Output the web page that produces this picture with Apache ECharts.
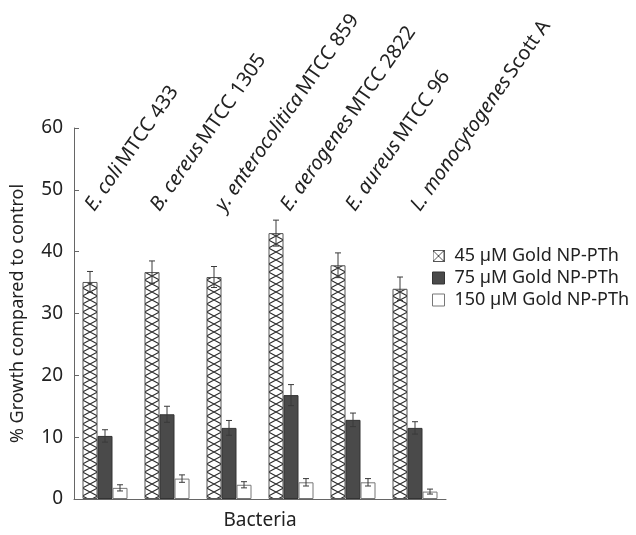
<!DOCTYPE html>
<html>
<head>
<meta charset="utf-8">
<script src="https://cdn.jsdelivr.net/npm/echarts@6/dist/echarts.min.js"></script>
<style>
  html, body { margin: 0; padding: 0; background: #fff; }
  #chart { width: 636px; height: 535px; }
</style>
</head>
<body>
<div id="chart"></div>
<script>
// Strains tested (species name in italics, strain code upright)
const speciesNames = ['E. coli', 'B. cereus', 'y. enterocolitica', 'E. aerogenes', 'E. aureus', 'L. monocytogenes'];
const strainNames = ['MTCC 433', 'MTCC 1305', 'MTCC 859', 'MTCC 2822', 'MTCC 96', 'Scott A'];

// Series names
const seriesNames = ['45 µM Gold NP-PTh', '75 µM Gold NP-PTh', '150 µM Gold NP-PTh'];

// % growth compared to control, mean and error per concentration
const growth45 = [35.1, 36.7, 35.9, 43.0, 37.8, 34.0];
const error45 = [1.7, 1.8, 1.7, 2.1, 2.0, 1.9];
const growth75 = [10.2, 13.7, 11.5, 16.8, 12.8, 11.5];
const error75 = [1.0, 1.3, 1.2, 1.7, 1.1, 1.0];
const growth150 = [1.8, 3.3, 2.3, 2.7, 2.7, 1.2];
const error150 = [0.5, 0.6, 0.5, 0.6, 0.6, 0.4];

// Y axis ticks
const yMin = 0, yMax = 60, yStep = 10;

const GRID_LEFT = 74, GRID_WIDTH = 372, GRID_TOP = 128, GRID_HEIGHT = 372;
const BAR_W = 15;
const categories = speciesNames.map((s, i) => i);

// Cross-hatch fill, one tile per category so the lattice lines up with the first bar of each group
function makeHatchTile() {
  const cw = GRID_WIDTH / speciesNames.length;
  const c = document.createElement('canvas');
  c.width = cw; c.height = 8;
  const ctx = c.getContext('2d');
  ctx.fillStyle = '#fff';
  ctx.fillRect(0, 0, c.width, c.height);
  const x0 = cw / 2 - 1.5 * BAR_W, x1 = x0 + BAR_W;
  ctx.strokeStyle = '#2a2a2a';
  ctx.lineWidth = 1.1;
  ctx.beginPath();
  ctx.moveTo(x0, 0); ctx.quadraticCurveTo((x0 + x1) / 2, 4, x1, 8);
  ctx.moveTo(x1, 0); ctx.quadraticCurveTo((x0 + x1) / 2, 4, x0, 8);
  ctx.stroke();
  return c;
}

function makeHatchIcon() {
  const c = document.createElement('canvas');
  c.width = 12; c.height = 12;
  const ctx = c.getContext('2d');
  ctx.fillStyle = '#fff'; ctx.fillRect(0, 0, 12, 12);
  ctx.strokeStyle = '#555'; ctx.lineWidth = 1;
  ctx.strokeRect(0.5, 0.5, 11, 11);
  ctx.beginPath();
  ctx.moveTo(1, 1); ctx.lineTo(11, 11);
  ctx.moveTo(11, 1); ctx.lineTo(1, 11);
  ctx.stroke();
  return c.toDataURL();
}

const hatchFill = { image: makeHatchTile(), repeat: 'repeat', x: GRID_LEFT, y: 0 };

function errorSeries(means, errs, slot) {
  return {
    type: 'custom',
    xAxisIndex: 0, yAxisIndex: 0,
    z: 5,
    data: means.map((m, i) => [i, m, errs[i]]),
    renderItem(params, api) {
      const c = api.value(0), v = api.value(1), e = api.value(2);
      const hi = api.coord([c, v + e]);
      const lo = api.coord([c, v - e]);
      const x = hi[0] + slot * BAR_W;
      const cap = 3;
      const st = { stroke: '#3a3a3a', lineWidth: 1 };
      return {
        type: 'group',
        children: [
          { type: 'line', shape: { x1: x, y1: hi[1], x2: x, y2: lo[1] }, style: st },
          { type: 'line', shape: { x1: x - cap, y1: hi[1], x2: x + cap, y2: hi[1] }, style: st },
          { type: 'line', shape: { x1: x - cap, y1: lo[1], x2: x + cap, y2: lo[1] }, style: st }
        ]
      };
    }
  };
}

const chart = echarts.init(document.getElementById('chart'), null, { renderer: 'canvas' });
const FONT = 'Noto Sans';

chart.setOption({
  animation: false,
  backgroundColor: '#fff',
  textStyle: { fontFamily: FONT, color: '#222' },
  grid: [
    { left: GRID_LEFT, top: GRID_TOP, width: GRID_WIDTH, height: GRID_HEIGHT },
    // strip carrying the slanted strain names above the bars
    { left: 57, top: 209, width: 391, height: 1 }
  ],
  legend: {
    orient: 'vertical',
    left: 427, top: 242,
    itemWidth: 12, itemHeight: 12, itemGap: 4,
    formatter: name => '{t|' + name + '}',
    textStyle: {
      rich: { t: { fontFamily: FONT, fontSize: 18, lineHeight: 19, color: '#222', padding: [0, 0, 0, 5] } }
    },
    data: [
      { name: seriesNames[0], icon: 'image://' + makeHatchIcon() },
      { name: seriesNames[1], icon: 'rect', itemStyle: { color: '#4a4a4a', borderColor: '#333', borderWidth: 1 } },
      { name: seriesNames[2], icon: 'rect', itemStyle: { color: '#fff', borderColor: '#777', borderWidth: 1 } }
    ]
  },
  xAxis: [
    {
      type: 'category', gridIndex: 0, data: categories,
      name: 'Bacteria', nameLocation: 'middle', nameGap: 12,
      nameTextStyle: { fontFamily: FONT, fontSize: 19, color: '#222', verticalAlign: 'top' },
      axisLine: { lineStyle: { color: '#666', width: 1 } },
      axisTick: { inside: true, length: 6, lineStyle: { color: '#666' } },
      axisLabel: { show: false }
    },
    {
      type: 'category', gridIndex: 1, data: categories, position: 'top',
      axisLine: { show: false }, axisTick: { show: false },
      axisLabel: {
        interval: 0, rotate: 55, margin: 0,
        formatter: (v, i) => '{i|' + speciesNames[i] + '} {n|' + strainNames[i] + '}',
        rich: {
          i: { fontFamily: FONT, fontSize: 20, fontStyle: 'italic', color: '#222' },
          n: { fontFamily: FONT, fontSize: 20, color: '#222' }
        }
      }
    }
  ],
  yAxis: [
    {
      type: 'value', gridIndex: 0, min: yMin, max: yMax, interval: yStep,
      name: '% Growth compared to control', nameLocation: 'middle', nameGap: 47,
      nameTextStyle: { fontFamily: FONT, fontSize: 18, color: '#222' },
      axisLine: { show: true, lineStyle: { color: '#666', width: 1 } },
      axisTick: { show: true, inside: true, length: 5, lineStyle: { color: '#666' } },
      axisLabel: { fontFamily: FONT, fontSize: 19, color: '#222', margin: 11 },
      splitLine: { show: false }
    },
    { type: 'value', gridIndex: 1, show: false }
  ],
  series: [
    {
      name: seriesNames[0], type: 'bar', data: growth45, barWidth: BAR_W, barGap: '0%',
      itemStyle: { color: hatchFill, borderColor: '#555', borderWidth: 1 }
    },
    {
      name: seriesNames[1], type: 'bar', data: growth75, barWidth: BAR_W, barGap: '0%',
      itemStyle: { color: '#4a4a4a', borderColor: '#333', borderWidth: 1 }
    },
    {
      name: seriesNames[2], type: 'bar', data: growth150, barWidth: BAR_W, barGap: '0%',
      itemStyle: { color: '#fff', borderColor: '#777', borderWidth: 1 }
    },
    errorSeries(growth45, error45, -1),
    errorSeries(growth75, error75, 0),
    errorSeries(growth150, error150, 1)
  ]
});
</script>
</body>
</html>
